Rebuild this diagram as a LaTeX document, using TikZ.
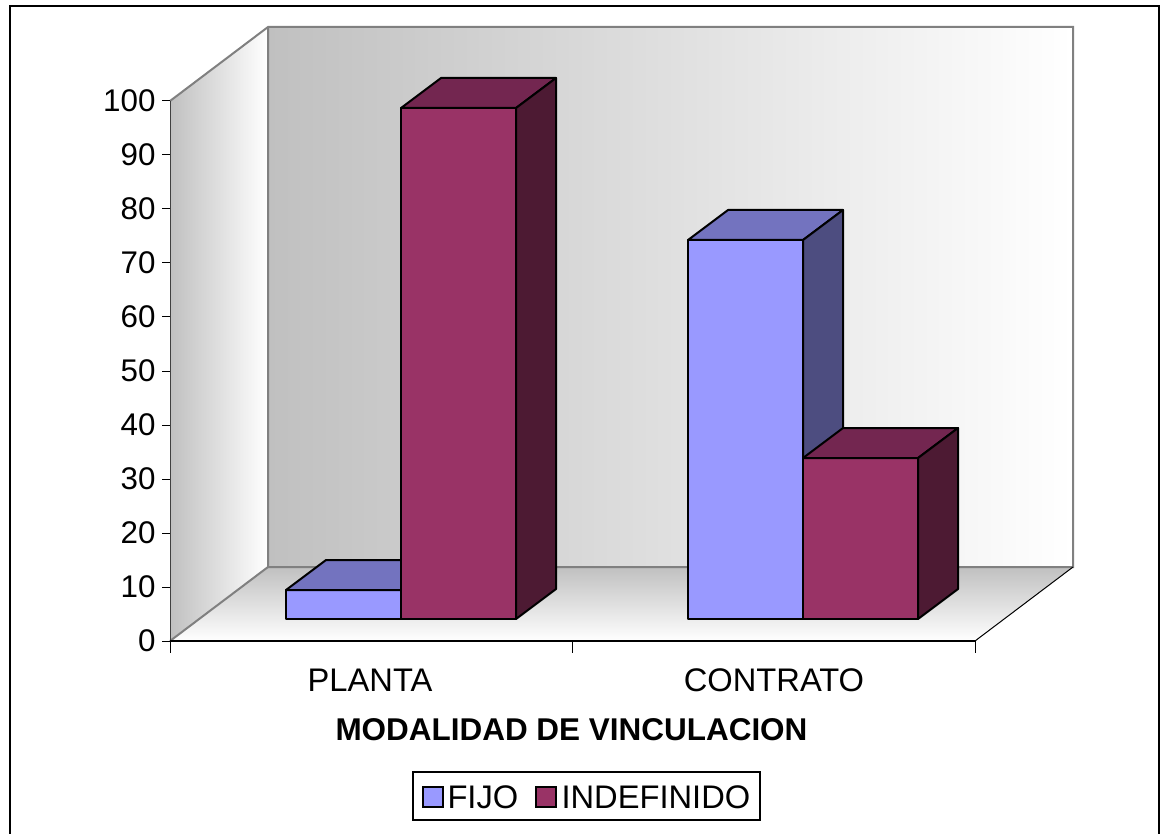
\documentclass[tikz,border=0pt]{standalone}
\usepackage{fontspec}
\setmainfont{Liberation Sans}

\definecolor{fijoFront}{RGB}{153,153,255}
\definecolor{fijoTop}{RGB}{115,115,191}
\definecolor{fijoSide}{RGB}{77,77,128}
\definecolor{indefFront}{RGB}{153,51,102}
\definecolor{indefTop}{RGB}{115,38,80}
\definecolor{indefSide}{RGB}{77,26,51}
\definecolor{wallGray}{RGB}{192,192,192}
\definecolor{wallEdge}{RGB}{128,128,128}

\tikzset{every picture/.style={line width=0.75pt}}
\tikzset{
  barface/.style={draw=black, line width=1.5pt, line join=round},
  walledge/.style={draw=wallEdge, line width=1.5pt},
  axislbl/.style={inner sep=0.75pt, font=\fontsize{23.5}{28}\selectfont},
  catlbl/.style={inner sep=0.75pt, font=\fontsize{24.5}{29}\selectfont},
  titlelbl/.style={inner sep=0.75pt, font=\fontsize{23.6}{28}\selectfont\bfseries},
  legendkey/.style={draw=black, line width=1.5pt}
}

\begin{document}
\begin{tikzpicture}[x=0.75pt,y=0.75pt,yscale=-1,xscale=1]
\useasboundingbox (0,0) rectangle (1160,834);

%Shape: Rectangle [chart frame]
\draw [line width=1.5pt] (10,834) -- (10,6.5) -- (1159,6.5) -- (1159,834) ;

%Shape: Back wall
\shade [left color=wallGray, right color=white] (268,27) rectangle (1073,567) ;
%Shape: Left wall
\shade [left color=wallGray, right color=white] (170,101) -- (268,27) -- (268,567) -- (170,641) -- cycle ;
%Shape: Floor
\shade [top color=wallGray, bottom color=white] (268,567) -- (1073,567) -- (975,641) -- (170,641) -- cycle ;

%Straight Lines [wall edges]
\draw [walledge] (170,101) -- (268,27) -- (1073,27) -- (1073,567) -- (268,567) -- (268,27) ;
\draw [walledge] (170,641) -- (268,567) ;
\draw [line width=0.75pt] (975,641) -- (1073,567) ;

%Straight Lines [value axis]
\draw [color=black!75] (170,101) -- (170,641) ;
\draw (162,641) -- (170,641) ; \draw (162,587) -- (170,587) ; \draw (162,533) -- (170,533) ;
\draw (162,479) -- (170,479) ; \draw (162,425) -- (170,425) ; \draw (162,371) -- (170,371) ;
\draw (162,317) -- (170,317) ; \draw (162,263) -- (170,263) ; \draw (162,209) -- (170,209) ;
\draw (162,155) -- (170,155) ; \draw (162,101) -- (170,101) ;

%Straight Lines [category axis]
\draw [line width=1.1pt] (170,641) -- (975,641) ;
\draw (170,641) -- (170,653) ; \draw (572,641) -- (572,653) ; \draw (975,641) -- (975,653) ;

%Shape: Bar PLANTA FIJO
\fill [fijoFront, barface] (286,619) rectangle (401,590) ;
\fill [fijoTop, barface] (286,590) -- (326,560) -- (441,560) -- (401,590) -- cycle ;
%Shape: Bar PLANTA INDEFINIDO
\fill [indefFront, barface] (401,619) rectangle (516,108) ;
\fill [indefTop, barface] (401,108) -- (441,78) -- (556,78) -- (516,108) -- cycle ;
\fill [indefSide, barface] (516,108) -- (556,78) -- (556,589) -- (516,619) -- cycle ;
%Shape: Bar CONTRATO FIJO
\fill [fijoFront, barface] (688,619) rectangle (803,240) ;
\fill [fijoTop, barface] (688,240) -- (728,210) -- (843,210) -- (803,240) -- cycle ;
\fill [fijoSide, barface] (803,240) -- (843,210) -- (843,589) -- (803,619) -- cycle ;
%Shape: Bar CONTRATO INDEFINIDO
\fill [indefFront, barface] (803,619) rectangle (918,458) ;
\fill [indefTop, barface] (803,458) -- (843,428) -- (958,428) -- (918,458) -- cycle ;
\fill [indefSide, barface] (918,458) -- (958,428) -- (958,589) -- (918,619) -- cycle ;

% Text Node
\node (v0) [axislbl, anchor=east] at (157,641) {0};
\node (v10) [axislbl, anchor=east] at (157,587) {10};
\node (v20) [axislbl, anchor=east] at (157,533) {20};
\node (v30) [axislbl, anchor=east] at (157,479) {30};
\node (v40) [axislbl, anchor=east] at (157,425) {40};
\node (v50) [axislbl, anchor=east] at (157,371) {50};
\node (v60) [axislbl, anchor=east] at (157,317) {60};
\node (v70) [axislbl, anchor=east] at (157,263) {70};
\node (v80) [axislbl, anchor=east] at (157,209) {80};
\node (v90) [axislbl, anchor=east] at (157,155) {90};
\node (v100) [axislbl, anchor=east] at (157,101) {100};
% Text Node
\node (planta) [catlbl] at (370,680) {PLANTA};
\node (contrato) [catlbl] at (774,680) {CONTRATO};
% Text Node
\node (titulo) [titlelbl] at (571.5,730) {MODALIDAD DE VINCULACION};

%Shape: Legend
\draw [line width=1pt] (413,772) rectangle (760,820) ;
\draw [legendkey, fill=fijoFront] (423,787) rectangle (443,807) ;
\node (fijo) [catlbl, anchor=west] at (446,797) {FIJO};
\draw [legendkey, fill=indefFront] (536,787) rectangle (556,807) ;
\node (indef) [catlbl, anchor=west] at (560,797) {INDEFINIDO};

\end{tikzpicture}
\end{document}
